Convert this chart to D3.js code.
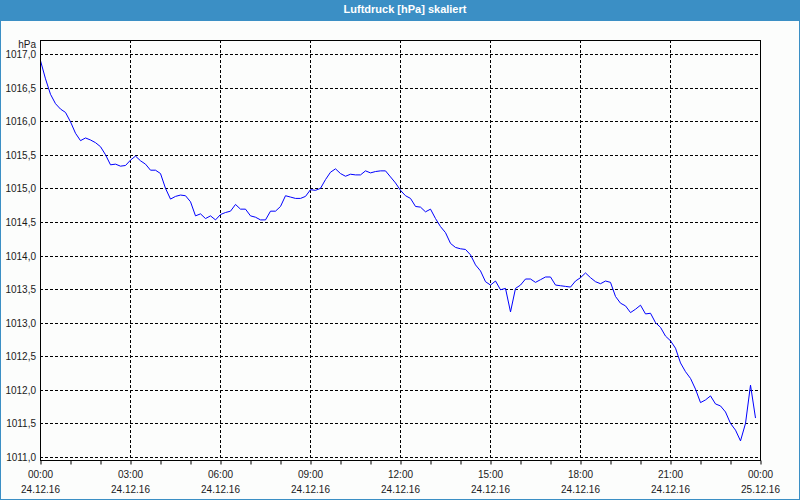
<!DOCTYPE html>
<html>
<head>
<meta charset="utf-8">
<script src="https://cdn.jsdelivr.net/npm/d3@7"></script>
<style>
  body { margin: 0; background: #fcfdfc; }
  text { font-family: "Liberation Sans", Arial, sans-serif; }
</style>
</head>
<body>
<div id="chart"></div>
<script>
// Luftdruck, one reading every 10 minutes starting 24.12.16 00:00
const startTime = new Date(2016, 11, 24, 0, 0);
const stepMinutes = 10;
const pressure = [
    1016.90, 1016.63, 1016.40, 1016.26, 1016.18, 1016.13, 1015.99, 1015.82, 1015.71, 1015.75, 1015.72, 1015.68,
    1015.62, 1015.50, 1015.35, 1015.36, 1015.33, 1015.34, 1015.42, 1015.48, 1015.41, 1015.36, 1015.27, 1015.27,
    1015.22, 1015.00, 1014.84, 1014.88, 1014.90, 1014.89, 1014.80, 1014.59, 1014.62, 1014.55, 1014.59, 1014.53,
    1014.61, 1014.64, 1014.66, 1014.76, 1014.69, 1014.69, 1014.59, 1014.57, 1014.53, 1014.53, 1014.66, 1014.66,
    1014.73, 1014.89, 1014.87, 1014.85, 1014.85, 1014.88, 1014.98, 1014.97, 1015.00, 1015.13, 1015.24, 1015.29,
    1015.22, 1015.18, 1015.21, 1015.20, 1015.20, 1015.26, 1015.23, 1015.25, 1015.26, 1015.26, 1015.17, 1015.08,
    1014.97, 1014.89, 1014.85, 1014.73, 1014.72, 1014.65, 1014.69, 1014.55, 1014.43, 1014.34, 1014.18, 1014.12,
    1014.10, 1014.09, 1014.01, 1013.86, 1013.77, 1013.61, 1013.56, 1013.62, 1013.49, 1013.51, 1013.16, 1013.51,
    1013.56, 1013.65, 1013.65, 1013.60, 1013.64, 1013.68, 1013.68, 1013.56, 1013.55, 1013.54, 1013.53, 1013.62,
    1013.67, 1013.74, 1013.67, 1013.61, 1013.58, 1013.62, 1013.60, 1013.39, 1013.29, 1013.25, 1013.15, 1013.20,
    1013.26, 1013.13, 1013.14, 1013.00, 1012.93, 1012.80, 1012.73, 1012.62, 1012.40, 1012.27, 1012.17, 1012.01,
    1011.81, 1011.85, 1011.91, 1011.79, 1011.76, 1011.67, 1011.50, 1011.40, 1011.24, 1011.50, 1012.07, 1011.58
];

const yTicks = [1011, 1011.5, 1012, 1012.5, 1013, 1013.5, 1014, 1014.5, 1015, 1015.5, 1016, 1016.5, 1017];
const xTicks = [
    new Date(2016, 11, 24, 0), new Date(2016, 11, 24, 3), new Date(2016, 11, 24, 6),
    new Date(2016, 11, 24, 9), new Date(2016, 11, 24, 12), new Date(2016, 11, 24, 15),
    new Date(2016, 11, 24, 18), new Date(2016, 11, 24, 21), new Date(2016, 11, 25, 0)
];
const title = "Luftdruck [hPa] skaliert";
const yUnit = "hPa";

const width = 800;
const height = 500;
const margin = { top: 40, right: 40, bottom: 40, left: 40 };
const blue = "#3b8fc5";

const svg = d3.select("#chart")
    .append("svg")
    .attr("width", width)
    .attr("height", height);

svg.append("rect")
    .attr("width", width)
    .attr("height", height)
    .attr("fill", "#fcfdfc");

// title bar
svg.append("rect")
    .attr("width", width)
    .attr("height", 21)
    .attr("fill", blue);
svg.append("text")
    .attr("x", 405)
    .attr("y", 9)
    .attr("dy", "0.35em")
    .attr("text-anchor", "middle")
    .attr("fill", "#fff")
    .attr("font-size", "11px")
    .attr("font-weight", "bold")
    .text(title);

// outer border
svg.append("rect")
    .attr("x", 0.5).attr("y", 0.5)
    .attr("width", width - 1).attr("height", height - 1)
    .attr("fill", "none")
    .attr("stroke", blue);

const data = pressure.map((v, i) => ({ t: d3.timeMinute.offset(startTime, i * stepMinutes), v: v }));

const xScale = d3.scaleTime()
    .domain([xTicks[0], xTicks[xTicks.length - 1]])
    .range([margin.left + 0.5, width - margin.right + 0.5]);

const yScale = d3.scaleLinear()
    .domain([1011, 1017])
    .range([457, 54]);

const px = v => Math.round(yScale(v)) + 0.5;

// grid
const grid = svg.append("g")
    .attr("stroke", "#000")
    .attr("stroke-dasharray", "3,2");
grid.selectAll("line.h")
    .data(yTicks)
    .join("line")
    .attr("class", "h")
    .attr("x1", margin.left).attr("x2", width - margin.right)
    .attr("y1", px).attr("y2", px);
grid.selectAll("line.v")
    .data(xTicks.slice(1, -1))
    .join("line")
    .attr("class", "v")
    .attr("x1", d => xScale(d)).attr("x2", d => xScale(d))
    .attr("y1", margin.top).attr("y2", height - margin.bottom);

// pressure line
svg.append("path")
    .datum(data)
    .attr("fill", "none")
    .attr("stroke", "#0000ff")
    .attr("stroke-width", 1)
    .attr("d", d3.line()
        .x(d => xScale(d.t))
        .y(d => yScale(d.v)));

// frame
svg.append("rect")
    .attr("x", margin.left + 0.5)
    .attr("y", margin.top + 0.5)
    .attr("width", width - margin.left - margin.right)
    .attr("height", height - margin.top - margin.bottom)
    .attr("fill", "none")
    .attr("stroke", "#000");

// hourly ticks under the frame
svg.append("g")
    .attr("transform", `translate(0,${height - margin.bottom + 0.5})`)
    .call(d3.axisBottom(xScale).ticks(d3.timeHour.every(1)).tickSize(4).tickFormat(""))
    .call(g => g.select(".domain").remove());

// x labels, time and date
const fmtTime = d3.timeFormat("%H:%M");
const fmtDate = d3.timeFormat("%d.%m.%y");
const xl = svg.append("g")
    .attr("font-size", "10px")
    .attr("fill", "#1a1a1a")
    .attr("text-anchor", "middle");
xl.selectAll("text.time")
    .data(xTicks)
    .join("text")
    .attr("class", "time")
    .attr("x", d => xScale(d))
    .attr("y", 474)
    .attr("dy", "0.35em")
    .text(fmtTime);
xl.selectAll("text.date")
    .data(xTicks)
    .join("text")
    .attr("class", "date")
    .attr("x", d => xScale(d))
    .attr("y", 489)
    .attr("dy", "0.35em")
    .text(fmtDate);

// y labels
svg.append("g")
    .attr("transform", `translate(${margin.left},0)`)
    .call(d3.axisLeft(yScale)
        .tickValues(yTicks)
        .tickSize(0)
        .tickPadding(4)
        .tickFormat(d => d3.format(".1f")(d).replace(".", ",")))
    .call(g => g.select(".domain").remove())
    .call(g => g.selectAll("text")
        .attr("y", 0)
        .attr("dy", "0.35em")
        .attr("fill", "#1a1a1a")
        .attr("font-size", "10px")
        .attr("font-family", "Liberation Sans, Arial, sans-serif"))
    .call(g => g.append("text")
        .attr("x", -4)
        .attr("y", 44)
        .attr("dy", "0.35em")
        .attr("fill", "#1a1a1a")
        .attr("text-anchor", "end")
        .attr("font-size", "10px")
        .attr("font-family", "Liberation Sans, Arial, sans-serif")
        .text(yUnit));
</script>
</body>
</html>
